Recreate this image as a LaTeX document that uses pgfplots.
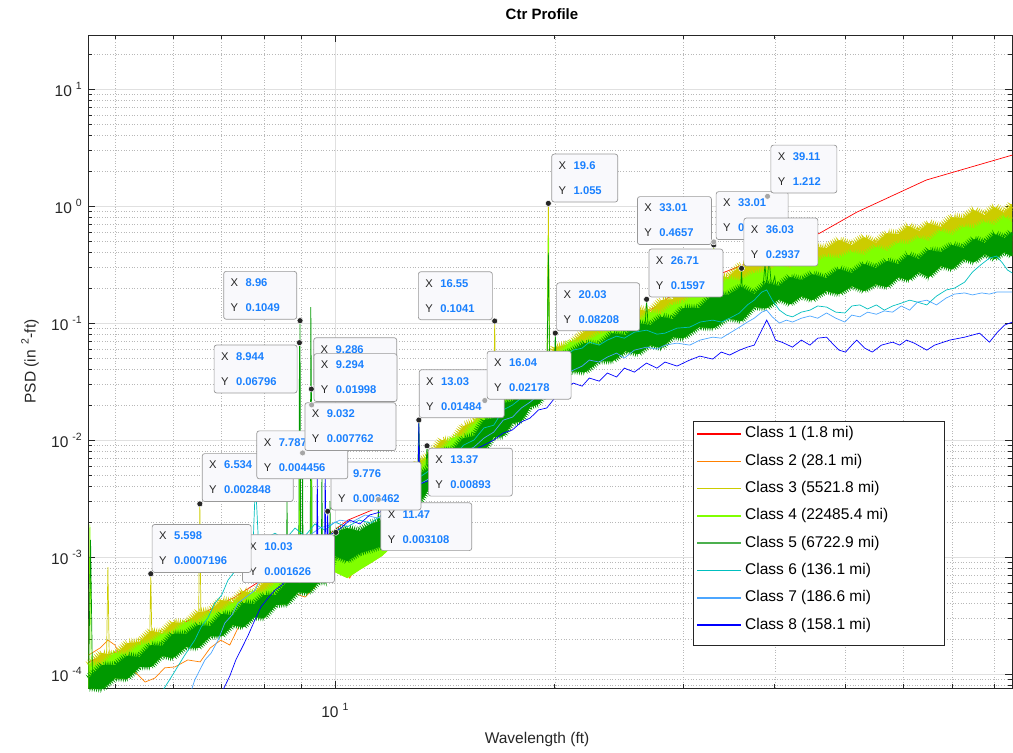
\documentclass[border=0pt]{standalone}
\usepackage{fontspec}
\setmainfont{Liberation Sans}
\usepackage{pgfplots}
\pgfplotsset{compat=1.18}
\usepackage{pgfplotstable}
\usepgfplotslibrary{fillbetween}
\usetikzlibrary{decorations.pathmorphing}

\definecolor{clsred}{rgb}{1,0,0}
\definecolor{clsorange}{rgb}{1,0.5,0}
\definecolor{clsolive}{rgb}{0.8,0.8,0}
\definecolor{clslime}{rgb}{0.5,1,0}
\definecolor{clsgreen}{rgb}{0,0.6,0}
\definecolor{clslegreen}{rgb}{0.3,0.69,0.31}
\definecolor{clscyan}{rgb}{0,0.75,0.75}
\definecolor{clssky}{rgb}{0.3,0.65,1}
\definecolor{clsblue}{rgb}{0,0,1}
\definecolor{tipblue}{rgb}{0.1,0.5,1}
\definecolor{tipfill}{rgb}{0.975,0.975,0.99}
\definecolor{axgray}{rgb}{0.15,0.15,0.15}

\newcommand{\expo}[1]{\hspace{4pt}\raisebox{7pt}{\fontsize{10.5}{12}\selectfont #1}}
\tikzset{tipbox/.style={draw=black!40, fill=tipfill, rounded corners=2.5pt, line width=0.7pt,
  align=left, inner xsep=7pt, inner ysep=7.5pt, font=\fontsize{11.2}{25}\selectfont, text=axgray},
  noisy/.style={decorate, decoration={zigzag, segment length=2.2pt, amplitude=#1}}}
\newcommand{\dtip}[6]{\node[tipbox, text width=#1, #2] at (axis cs:#3,#4)
  {X\hspace{7.5pt}\textcolor{tipblue}{\bfseries #5}\\Y\hspace{7.5pt}\textcolor{tipblue}{\bfseries #6}};}
\newcommand{\legrow}[3]{\draw[draw=#1, line width=1.5pt] (axis description cs:0.6590,#2) -- (axis description cs:0.7067,#2);
  \node[anchor=west, inner sep=0pt, font=\fontsize{15.5}{18}\selectfont, text=black] at (axis description cs:0.7109,#2) {#3};}

\pgfplotstableread{
x t3 t4 t5 b5 b4
4.6 1.19e-4 1.17e-4 9.2e-5 7.6e-5 7.6e-5
4.8 1.51e-4 1.19e-4 1.19e-4 7.4e-5 7.4e-5
5.0 1.45e-4 1.51e-4 1.19e-4 9.2e-5 9.2e-5
5.2 1.84e-4 1.45e-4 1.43e-4 9.1e-5 9.1e-5
5.4 1.88e-4 1.77e-4 1.40e-4 1.15e-4 1.15e-4
5.6 2.33e-4 1.84e-4 1.77e-4 1.15e-4 1.15e-4
5.8 2.24e-4 2.20e-4 1.74e-4 1.43e-4 1.43e-4
6.0 2.78e-4 2.20e-4 2.20e-4 1.37e-4 1.37e-4
6.25 2.68e-4 2.78e-4 2.20e-4 1.70e-4 1.70e-4
6.5 3.39e-4 2.68e-4 2.62e-4 1.67e-4 1.67e-4
6.75 3.46e-4 3.26e-4 2.57e-4 2.11e-4 2.11e-4
7.0 4.29e-4 3.39e-4 3.26e-4 2.11e-4 2.11e-4
7.25 4.12e-4 4.04e-4 3.19e-4 2.62e-4 2.62e-4
7.5 5.12e-4 4.04e-4 4.04e-4 2.52e-4 2.52e-4
7.75 4.83e-4 5.02e-4 3.96e-4 3.07e-4 3.07e-4
8.0 6.11e-4 4.83e-4 4.73e-4 3.01e-4 3.01e-4
8.3 6.35e-4 5.99e-4 4.73e-4 3.89e-4 3.89e-4
8.6 8.04e-4 6.35e-4 6.11e-4 3.96e-4 3.96e-4
8.9 7.89e-4 7.73e-4 6.11e-4 5.02e-4 5.02e-4
9.2 1.00e-3 7.89e-4 7.89e-4 4.92e-4 4.92e-4
9.5 9.6e-4 1.00e-3 7.89e-4 6.11e-4 6.11e-4
9.75 1.24e-3 9.8e-4 9.6e-4 6.11e-4 6.11e-4
10.0 1.40e-3 1.27e-3 1.64e-3 1.02e-3 7.43e-4
10.4 1.51e-3 1.37e-3 1.77e-3 9.23e-4 6.61e-4
10.8 1.48e-3 1.29e-3 1.67e-3 1.08e-3 7.73e-4
11.2 1.67e-3 1.51e-3 1.92e-3 1.15e-3 8.87e-4
11.6 1.81e-3 1.64e-3 2.07e-3 1.24e-3 1.02e-3
12.0 2.42e-3 2.15e-3 2.62e-3 1.48e-3 1.24e-3
12.5 3.46e-3 3.32e-3 2.62e-3 1.81e-3 1.81e-3
13.0 6.48e-3 5.22e-3 5.02e-3 2.73e-3 2.73e-3
13.5 7.43e-3 7.43e-3 5.87e-3 4.04e-3 4.04e-3
14.0 1.00e-2 8.04e-3 8.04e-3 4.21e-3 4.21e-3
14.5 9.8e-3 1.04e-2 8.2e-3 5.32e-3 5.32e-3
15.0 1.32e-2 1.06e-2 1.04e-2 5.54e-3 5.54e-3
15.5 1.43e-2 1.37e-2 1.08e-2 7.43e-3 7.43e-3
16.0 1.92e-2 1.54e-2 1.48e-2 8.04e-3 8.04e-3
16.5 1.95e-2 1.95e-2 1.54e-2 1.06e-2 1.06e-2
17.0 2.57e-2 2.07e-2 2.07e-2 1.08e-2 1.08e-2
17.5 2.57e-2 2.73e-2 2.15e-2 1.40e-2 1.40e-2
18.0 3.46e-2 2.78e-2 2.73e-2 1.45e-2 1.45e-2
18.5 3.67e-2 3.52e-2 2.78e-2 1.92e-2 1.92e-2
19.0 4.83e-2 3.89e-2 3.74e-2 2.03e-2 2.03e-2
19.5 4.83e-2 4.83e-2 3.81e-2 2.62e-2 2.62e-2
20.0 6.23e-2 5.02e-2 5.02e-2 2.62e-2 2.62e-2
21.0 6.61e-2 6.87e-2 5.65e-2 3.89e-2 3.89e-2
22.0 8.53e-2 6.74e-2 6.74e-2 3.81e-2 3.81e-2
23.0 8.70e-2 8.04e-2 6.48e-2 4.73e-2 4.73e-2
24.0 0.110 8.53e-2 8.20e-2 4.73e-2 4.73e-2
25.0 0.106 0.102 7.89e-2 5.76e-2 5.76e-2
26.0 0.132 0.100 0.100 5.43e-2 5.43e-2
27.0 0.124 0.124 9.6e-2 6.48e-2 6.48e-2
28.0 0.157 0.119 0.113 6.11e-2 6.11e-2
29.0 0.160 0.143 0.108 7.58e-2 7.58e-2
30.0 0.199 0.148 0.134 7.43e-2 7.43e-2
31.5 0.199 0.184 0.134 9.23e-2 9.23e-2
33.0 0.257 0.188 0.177 9.05e-2 9.05e-2
34.5 0.247 0.238 0.174 0.110 0.110
36.0 0.313 0.229 0.203 0.104 0.104
37.5 0.319 0.268 0.177 0.137 0.137
39.0 0.389 0.273 0.220 0.134 0.134
40.5 0.359 0.313 0.207 0.160 0.160
42.0 0.421 0.295 0.247 0.145 0.145
43.5 0.381 0.352 0.233 0.170 0.170
45.0 0.455 0.319 0.262 0.157 0.157
47.0 0.437 0.367 0.242 0.188 0.188
49.0 0.512 0.359 0.289 0.177 0.177
51.0 0.464 0.404 0.268 0.207 0.207
53.0 0.543 0.381 0.319 0.188 0.188
55.0 0.483 0.446 0.295 0.215 0.215
57.0 0.587 0.412 0.339 0.203 0.203
59.0 0.576 0.483 0.319 0.247 0.247
61.0 0.674 0.473 0.381 0.233 0.233
63.0 0.611 0.532 0.352 0.273 0.273
65.0 0.715 0.502 0.421 0.247 0.247
67.5 0.661 0.611 0.404 0.307 0.307
70.0 0.804 0.565 0.464 0.289 0.289
72.5 0.789 0.661 0.437 0.352 0.352
75.0 0.923 0.648 0.522 0.332 0.332
77.5 0.836 0.729 0.483 0.389 0.389
80.0 0.980 0.687 0.576 0.352 0.352
82.5 0.870 0.804 0.532 0.404 0.404
84.5 1.04 0.729 0.599 0.374 0.374
}\bands

\begin{document}
\begin{tikzpicture}
\begin{axis}[
  set layers=standard,
  scale only axis,
  width=923.5pt, height=653pt,
  xmode=log, ymode=log,
  xmin=4.6, xmax=84.5, ymin=7.6e-5, ymax=29,
  xtick={10},
  xticklabels={10\expo{1}},
  ytick={1e-4,1e-3,1e-2,1e-1,1,10},
  yticklabels={10\expo{-4},10\expo{-3},10\expo{-2},10\expo{-1},10\expo{0},10\expo{1}},
  minor xtick={5,6,7,8,9,20,30,40,50,60,70,80},
  minor ytick={8e-5,9e-5,2e-4,3e-4,4e-4,5e-4,6e-4,7e-4,8e-4,9e-4,2e-3,3e-3,4e-3,5e-3,6e-3,7e-3,8e-3,9e-3,0.02,0.03,0.04,0.05,0.06,0.07,0.08,0.09,0.2,0.3,0.4,0.5,0.6,0.7,0.8,0.9,2,3,4,5,6,7,8,9,20},
  xmajorgrids, ymajorgrids, xminorgrids, yminorgrids,
  major grid style={line width=0.6pt, color=black!12},
  minor grid style={line width=0.45pt, color=black!28, dash pattern=on 0.7pt off 2pt},
  tick align=inside, major tick length=7pt, minor tick length=4pt,
  tick style={axgray, line width=0.6pt},
  axis line style={axgray, line width=0.7pt},
  tick label style={font=\fontsize{15.5}{18}\selectfont, text=axgray},
  yticklabel style={anchor=east, inner sep=0pt, xshift=-6.5pt},
  xticklabel style={anchor=north, inner sep=0pt, yshift=-15pt},
  every axis title shift=0pt,
  title={Ctr Profile},
  title style={at={(axis description cs:0.491,1.0322)}, anchor=center, font=\fontsize{15}{18}\selectfont\bfseries, text=black},
  xlabel={Wavelength (ft)},
  xlabel style={at={(axis description cs:0.4857,-0.0796)}, anchor=center, font=\fontsize{15.5}{18}\selectfont, text=axgray},
  ylabel={PSD (in\hspace{6pt}\raisebox{7pt}{\fontsize{10.5}{12}\selectfont 2}-ft)},
  ylabel style={at={(axis description cs:-0.0633,0.5)}, anchor=center, font=\fontsize{15.5}{18}\selectfont, text=axgray},
]
% Class 1 and 2 (under the bands)
\addplot[draw=clsred, line width=0.7pt, on layer=pre main, forget plot] coordinates {
(4.6,1.27e-4) (5.58,1.95e-4) (7.30,4.55e-4) (8.98,1.04e-3) (10.42,2.07e-3) (11.41,2.62e-3)
(13.07,5.54e-3) (19.68,3.26e-2) (29.65,0.192) (39.1,0.381) (46.1,0.587) (51.8,0.887) (64.5,1.67) (84.6,2.73)};
\addplot[draw=clsorange, line width=0.7pt, on layer=pre main, forget plot] coordinates {
(4.6,1.45e-4) (4.77,1.67e-4) (4.89,1.95e-4) (5.0,1.77e-4) (5.16,1.19e-4) (5.33,1.04e-4) (5.5,8.55e-5)
(5.67,9.24e-5) (5.85,1.13e-4) (6.04,1.15e-4) (6.29,1.32e-4) (6.54,1.27e-4) (6.75,1.67e-4) (6.98,1.95e-4)
(7.18,1.77e-4) (7.46,2.89e-4) (7.78,4.04e-4) (8.02,3.81e-4) (8.28,4.46e-4) (8.62,5.22e-4) (8.87,4.83e-4)
(9.10,4.55e-4) (9.39,5.54e-4) (9.60,8.53e-4) (9.84,9.41e-4) (10.09,8.53e-4) (10.32,8.04e-4) (10.48,6.61e-4)
(10.72,8.53e-4) (11.0,1.27e-3) (11.52,1.40e-3) (12,1.70e-3) (13,3.39e-3) (14,4.55e-3) (16,9.05e-3)
(18.5,1.99e-2) (21,3.96e-2) (26,7.15e-2) (33,0.129) (42,0.224) (55,0.295) (70,0.421) (84.5,0.512)};

% Class 3 band
\addplot[name path=t3, draw=none, forget plot] table[x=x,y=t3]{\bands};
\addplot[name path=b3, draw=none, forget plot] table[x=x,y=b4]{\bands};
\addplot[fill=clsolive, draw=none, forget plot] fill between[of=t3 and b3];
\addplot[draw=clsolive, line width=0.5pt, noisy=3.4pt, on layer=pre main, forget plot] table[x=x,y=t3]{\bands};
% Class 4 band
\addplot[name path=t4, draw=none, forget plot] table[x=x,y=t4]{\bands};
\addplot[name path=b4, draw=none, forget plot] table[x=x,y=b4]{\bands};
\addplot[fill=clslime, draw=none, forget plot] fill between[of=t4 and b4];
\addplot[draw=clslime, line width=0.5pt, noisy=3pt, on layer=pre main, forget plot] table[x=x,y=t4]{\bands};
% Class 5 band
\addplot[name path=t5, draw=none, forget plot] table[x=x,y=t5]{\bands};
\addplot[name path=b5, draw=none, forget plot] table[x=x,y=b5]{\bands};
\addplot[fill=clsgreen, draw=none, forget plot] fill between[of=t5 and b5];
\addplot[draw=clsgreen, line width=0.5pt, noisy=3.2pt, on layer=pre main, forget plot] table[x=x,y=t5]{\bands};
\addplot[draw=clsgreen, line width=0.5pt, noisy=2.5pt, on layer=pre main, forget plot] table[x=x,y=b5]{\bands};

% spikes
\addplot[draw=clsolive, line width=0.7pt, unbounded coords=jump, forget plot] coordinates {
(4.87,1.5e-4) (4.89,8.2e-4) (4.91,1.5e-4) (4.92,nan)
(5.58,2.2e-4) (5.598,7.196e-4) (5.615,2.2e-4) (5.62,nan)
(6.51,3.4e-4) (6.534,2.848e-3) (6.555,3.4e-4) (6.56,nan)
(16.49,2.0e-2) (16.55,0.1041) (16.61,2.0e-2) (16.62,nan)
(19.52,4.8e-2) (19.6,1.055) (19.68,5.0e-2) (19.7,nan)
(32.9,0.25) (33.01,0.4657) (33.12,0.25) (33.2,nan)
(38.3,0.38) (38.7,0.62) (38.95,0.45) (39.11,1.212) (39.3,0.5) (39.6,0.6) (40.0,0.4)};
\addplot[draw=clslime, line width=0.7pt, unbounded coords=jump, forget plot] coordinates {
(4.6,7e-5) (4.62,1.9e-3) (4.64,1.2e-4) (4.65,nan)
(8.93,6e-4) (8.95,1.2e-2) (8.97,6e-4) (8.98,nan)
(9.26,8e-4) (9.28,1.1e-2) (9.30,8e-4) (9.31,nan)
(19.52,4.5e-2) (19.6,0.55) (19.68,4.5e-2) (19.7,nan)
(32.9,0.2) (33.01,0.45) (33.12,0.2) (33.2,nan)
(38.5,0.3) (38.9,0.55) (39.2,0.4) (39.6,0.5) (40.0,0.3)};
\addplot[draw=clsgreen, line width=0.7pt, unbounded coords=jump, forget plot] coordinates {
(4.6,7e-5) (4.63,1.4e-3) (4.66,8e-5) (4.67,nan)
(8.58,3.8e-4) (8.6,3.5e-3) (8.62,3.8e-4) (8.63,nan)
(8.92,5e-4) (8.944,6.796e-2) (8.952,2.0e-2) (8.96,0.1049) (8.98,5e-4) (8.99,nan)
(9.01,5e-4) (9.032,7.762e-3) (9.05,5e-4) (9.06,nan)
(9.25,6e-4) (9.27,0.137) (9.286,2.731e-2) (9.294,1.998e-2) (9.31,6e-4) (9.32,nan)
(9.58,8e-4) (9.6,5.5e-3) (9.62,8e-4) (9.63,nan)
(9.83,9e-4) (9.85,3e-3) (9.87,9e-4) (9.88,nan)
(10.01,1.3e-3) (10.03,1.626e-3) (10.05,1.3e-3) (10.06,nan)
(11.44,1.3e-3) (11.47,3.108e-3) (11.5,1.3e-3) (11.51,nan)
(12.98,5e-3) (13.03,1.484e-2) (13.08,5e-3) (13.09,nan)
(13.33,6e-3) (13.37,8.93e-3) (13.41,6e-3) (13.42,nan)
(19.52,4e-2) (19.6,0.40) (19.68,4e-2) (19.7,nan)
(19.98,4.5e-2) (20.03,8.208e-2) (20.08,4.5e-2) (20.1,nan)
(26.6,0.1) (26.71,0.1597) (26.82,0.1) (26.9,nan)
(35.9,0.17) (36.03,0.2937) (36.15,0.17) (36.2,nan)
(38.5,0.18) (38.8,0.32) (39.0,0.2) (39.3,0.36) (39.6,0.2) (40.0,0.25) (40.3,0.17)};

% Class 6
\addplot[draw=clscyan, line width=0.7pt, forget plot] coordinates {
(5.76,6.6e-5) (5.97,9.4e-5) (6.23,1.45e-4) (6.43,1.95e-4) (6.56,2.52e-4) (6.70,3.01e-4) (6.85,4.04e-4)
(7.0,4.73e-4) (7.14,6.35e-4) (7.37,8.2e-4) (7.60,9.41e-4) (7.72,1.04e-3) (7.787,4.456e-3) (7.87,1.15e-3)
(8.05,1.45e-3) (8.28,1.60e-3) (8.54,1.40e-3) (8.82,1.77e-3) (9.10,1.51e-3) (9.39,1.92e-3) (9.69,1.70e-3)
(10,1.99e-3) (10.4,1.81e-3) (10.8,2.07e-3) (11.2,1.95e-3) (11.6,2.29e-3) (12,2.78e-3) (12.5,3.74e-3)
(13,4.73e-3) (13.5,5.54e-3) (14,6.48e-3) (14.5,7.0e-3) (15,9.05e-3) (15.5,1.0e-2) (16,1.27e-2)
(16.5,1.34e-2) (17,1.81e-2) (17.5,1.99e-2) (18,2.29e-2) (18.5,2.57e-2) (19,2.95e-2) (19.5,3.26e-2)
(20,3.96e-2) (20.5,5.02e-2) (21.2,5.87e-2) (21.8,6.11e-2) (22.3,6.87e-2) (23.0,6.48e-2) (23.6,7.15e-2)
(24.3,7.73e-2) (24.9,7.43e-2) (25.7,8.36e-2) (26.7,8.7e-2) (27.6,8.04e-2) (28.3,8.2e-2) (29.4,9.05e-2)
(30.6,9.23e-2) (31.6,0.102) (32.9,0.106) (33.8,0.102) (34.7,0.110) (35.8,0.122) (36.7,0.143) (37.5,0.157)
(38.4,0.184) (39,0.192) (39.7,0.157) (40.6,0.129) (41.5,0.117) (42.3,0.113) (43.5,0.124) (44.7,0.129)
(45.8,0.140) (47.1,0.137) (48.5,0.124) (49.9,0.122) (51,0.140) (52.3,0.143) (53.6,0.132) (55.1,0.143)
(56.5,0.129) (58,0.140) (59.6,0.148) (61.2,0.157) (62.7,0.151) (64.6,0.143) (66.6,0.170) (68.7,0.192)
(70.5,0.199) (72.8,0.224) (74.6,0.273) (76.8,0.319) (78.7,0.359) (80.5,0.374) (82,0.326) (83.3,0.284) (84.6,0.268)};
% Class 7
\addplot[draw=clssky, line width=0.7pt, forget plot] coordinates {
(6.33,6.6e-5) (6.43,8.9e-5) (6.64,1.32e-4) (6.77,1.51e-4) (6.92,1.95e-4) (7.07,2.73e-4) (7.23,3.19e-4)
(7.37,4.04e-4) (7.53,4.46e-4) (7.78,5.22e-4) (7.94,7.0e-4) (8.15,7.73e-4) (8.41,9.8e-4) (8.68,1.04e-3)
(8.96,1.40e-3) (9.24,1.54e-3) (9.54,1.77e-3) (9.84,1.88e-3) (10.16,2.07e-3) (10.55,1.99e-3) (11.0,2.29e-3)
(11.45,2.15e-3) (12,2.62e-3) (12.5,3.39e-3) (13,4.12e-3) (13.5,4.73e-3) (14,5.76e-3) (14.5,6.48e-3)
(15,7.89e-3) (15.5,8.7e-3) (16,1.04e-2) (16.5,1.17e-2) (17,1.48e-2) (17.5,1.57e-2) (18,1.88e-2)
(18.5,2.11e-2) (19,2.42e-2) (19.5,2.57e-2) (20,3.13e-2) (20.5,3.59e-2) (21.2,3.96e-2) (21.8,4.29e-2)
(22.3,4.83e-2) (23.0,4.64e-2) (23.6,5.12e-2) (24.3,5.54e-2) (24.9,5.02e-2) (25.7,5.87e-2) (26.7,6.23e-2)
(27.6,5.99e-2) (28.3,6.48e-2) (29.4,6.74e-2) (30.6,6.48e-2) (31.6,7.15e-2) (32.9,7.58e-2) (33.8,7.43e-2)
(34.7,8.2e-2) (35.8,9.23e-2) (36.7,0.102) (37.5,0.110) (38.4,0.124) (39,0.129) (39.7,0.113) (40.6,0.100)
(41.5,0.106) (42.3,0.102) (43.5,0.110) (44.7,0.115) (45.8,0.110) (47.1,0.122) (48.5,0.110) (49.9,0.102)
(51,0.117) (52.3,0.113) (53.6,0.124) (55.1,0.119) (56.5,0.127) (58,0.124) (59.6,0.140) (61.2,0.129)
(62.7,0.151) (64.6,0.157) (66.6,0.143) (68.7,0.164) (70.5,0.177) (72.8,0.181) (74.6,0.174) (76.8,0.181)
(78.7,0.177) (80.5,0.184) (82.5,0.184) (84.6,0.184)};
% Class 8
\addplot[draw=clsblue, line width=0.7pt, forget plot] coordinates {
(6.92,6.0e-5) (7.05,7.6e-5) (7.18,9.6e-5) (7.32,1.32e-4) (7.46,1.67e-4) (7.60,2.11e-4) (7.75,2.78e-4)
(7.92,3.74e-4) (8.10,4.46e-4) (8.28,5.22e-4) (8.46,5.76e-4) (8.62,6.61e-4) (8.84,8.04e-4) (9.10,9.41e-4)
(9.30,1.10e-3) (9.44,1.15e-3) (9.46,5.0e-3) (9.48,1.2e-3) (9.57,1.27e-3) (9.68,1.35e-3) (9.70,5.5e-3)
(9.72,1.4e-3) (9.76,1.45e-3) (9.776,2.462e-3) (9.79,1.5e-3) (9.84,1.54e-3) (10.19,1.77e-3) (10.48,2.07e-3)
(10.82,1.92e-3) (11.16,2.29e-3) (11.52,2.42e-3) (12,2.78e-3) (12.47,3.39e-3) (13.0,3.89e-3) (13.03,1.4e-2)
(13.06,4.2e-3) (13.5,4.55e-3) (14,5.54e-3) (14.5,5.76e-3) (15,7.43e-3) (15.5,8.2e-3) (16,9.05e-3)
(16.5,1.0e-2) (17,1.15e-2) (17.5,1.22e-2) (18,1.43e-2) (18.5,1.54e-2) (19,1.81e-2) (19.5,1.88e-2)
(20,2.29e-2) (20.5,2.68e-2) (21.2,3.07e-2) (21.8,2.89e-2) (22.3,3.39e-2) (23.0,3.19e-2) (23.6,3.74e-2)
(24.3,3.46e-2) (24.9,4.12e-2) (25.7,3.81e-2) (26.7,4.55e-2) (27.6,4.12e-2) (28.3,4.64e-2) (29.4,4.29e-2)
(30.6,4.83e-2) (31.6,5.22e-2) (32.9,4.92e-2) (33.8,5.65e-2) (34.7,5.33e-2) (35.8,5.87e-2) (36.7,6.23e-2)
(37.5,6.48e-2) (38.4,8.7e-2) (39,0.106) (39.5,9.05e-2) (40.1,7.15e-2) (40.9,6.87e-2) (42.3,6.23e-2)
(43.5,7.15e-2) (44.7,6.48e-2) (45.8,7.43e-2) (47.1,7.58e-2) (48.2,6.48e-2) (49,5.87e-2) (50,5.65e-2)
(51,6.48e-2) (51.8,7.15e-2) (53.1,6.11e-2) (54.4,5.65e-2) (56,6.48e-2) (58,6.87e-2) (59.3,6.48e-2)
(60.6,7.15e-2) (62.1,6.74e-2) (64.6,5.87e-2) (66.2,6.48e-2) (69.4,7.15e-2) (72.8,7.58e-2) (76.3,8.2e-2)
(78.7,6.87e-2) (80.7,8.36e-2) (82.5,9.6e-2) (84.6,0.102)};

% datatip markers
\addplot[only marks, mark=*, mark size=3pt, mark options={fill=black!85, draw=white, line width=0.5pt},
  on layer=axis foreground, forget plot] coordinates {
(19.6,1.055) (33.01,0.4657) (36.03,0.2937) (26.71,0.1597) (20.03,0.08208) (16.55,0.1041) (13.03,0.01484)
(13.37,0.00893) (9.776,0.002462) (10.03,0.001626) (5.598,0.0007196) (6.534,0.002848) (8.96,0.1049)
(8.944,0.06796) (9.286,0.02731)};
\addplot[only marks, mark=*, mark size=3pt, mark options={fill=black!35, draw=white, line width=0.5pt},
  on layer=axis foreground, forget plot] coordinates {
(39.11,1.212) (16.04,0.02178) (11.47,0.003108) (9.032,0.007762) (9.294,0.01998) (33.01,0.494)};

% datatips
\dtip{78pt}{anchor=north east, xshift=-1pt, yshift=-2pt}{10.03}{0.001626}{10.03}{0.001626}
\dtip{85pt}{anchor=south west, xshift=1pt, yshift=1pt}{5.598}{0.0007196}{5.598}{0.0007196}
\dtip{77pt}{anchor=north west, xshift=2pt, yshift=-3pt}{11.47}{0.003108}{11.47}{0.003108}
\dtip{76pt}{anchor=south west, xshift=3pt, yshift=1pt}{9.776}{0.002462}{9.776}{0.002462}
\dtip{77pt}{anchor=south west, xshift=2pt, yshift=2pt}{6.534}{0.002848}{6.534}{0.002848}
\dtip{77pt}{anchor=south west, xshift=1pt, yshift=2pt}{7.787}{0.004456}{7.787}{0.004456}
\dtip{69pt}{anchor=south west, xshift=2pt, yshift=3pt}{9.286}{0.02731}{9.286}{0.02731}
\dtip{69pt}{anchor=south west, xshift=2pt, yshift=3pt}{9.294}{0.01998}{9.294}{0.01998}
\dtip{77pt}{anchor=south west, xshift=2pt, yshift=2pt}{9.032}{0.007762}{9.032}{0.007762}
\dtip{69pt}{anchor=north east, xshift=-2pt, yshift=-2pt}{8.944}{0.06796}{8.944}{0.06796}
\dtip{59pt}{anchor=south east, xshift=-3pt, yshift=1pt}{8.96}{0.1049}{8.96}{0.1049}
\dtip{70pt}{anchor=north west, xshift=1pt, yshift=-2pt}{13.37}{0.00893}{13.37}{0.00893}
\dtip{71pt}{anchor=south west, xshift=0pt, yshift=2pt}{13.03}{0.01484}{13.03}{0.01484}
\dtip{70pt}{anchor=south west, xshift=2pt, yshift=1pt}{16.04}{0.02178}{16.04}{0.02178}
\dtip{60pt}{anchor=south east, xshift=-2pt, yshift=1pt}{16.55}{0.1041}{16.55}{0.1041}
\dtip{52pt}{anchor=south west, xshift=3pt, yshift=1pt}{19.6}{1.055}{19.6}{1.055}
\dtip{69pt}{anchor=south west, xshift=1pt, yshift=2pt}{20.03}{0.08208}{20.03}{0.08208}
\dtip{58pt}{anchor=south west, xshift=2pt, yshift=2pt}{33.01}{0.494}{33.01}{0.4941}
\dtip{52pt}{anchor=south west, xshift=3pt, yshift=3pt}{39.11}{1.212}{39.11}{1.212}
\dtip{60pt}{anchor=south west, xshift=2pt, yshift=2pt}{36.03}{0.2937}{36.03}{0.2937}
\dtip{60pt}{anchor=south east, xshift=-2pt, yshift=0pt}{33.01}{0.4657}{33.01}{0.4657}
\dtip{60pt}{anchor=south west, xshift=2pt, yshift=2pt}{26.71}{0.1597}{26.71}{0.1597}

% legend
\draw[draw=axgray, line width=0.7pt, fill=white] (axis description cs:0.6546,0.4089) rectangle (axis description cs:0.9264,0.0658);
\legrow{clsred}{0.3890}{Class 1 (1.8 mi)}
\legrow{clsorange}{0.3471}{Class 2 (28.1 mi)}
\legrow{clsolive}{0.3053}{Class 3 (5521.8 mi)}
\legrow{clslime}{0.2635}{Class 4 (22485.4 mi)}
\legrow{clslegreen}{0.2218}{Class 5 (6722.9 mi)}
\legrow{clscyan}{0.1800}{Class 6 (136.1 mi)}
\legrow{clssky}{0.1382}{Class 7 (186.6 mi)}
\legrow{clsblue}{0.0965}{Class 8 (158.1 mi)}
\end{axis}
\pgfresetboundingbox
\path[use as bounding box] ([xshift=-88.5pt,yshift=-64pt]current axis.south west) rectangle ([xshift=1pt,yshift=35pt]current axis.north east);
\end{tikzpicture}
\end{document}
